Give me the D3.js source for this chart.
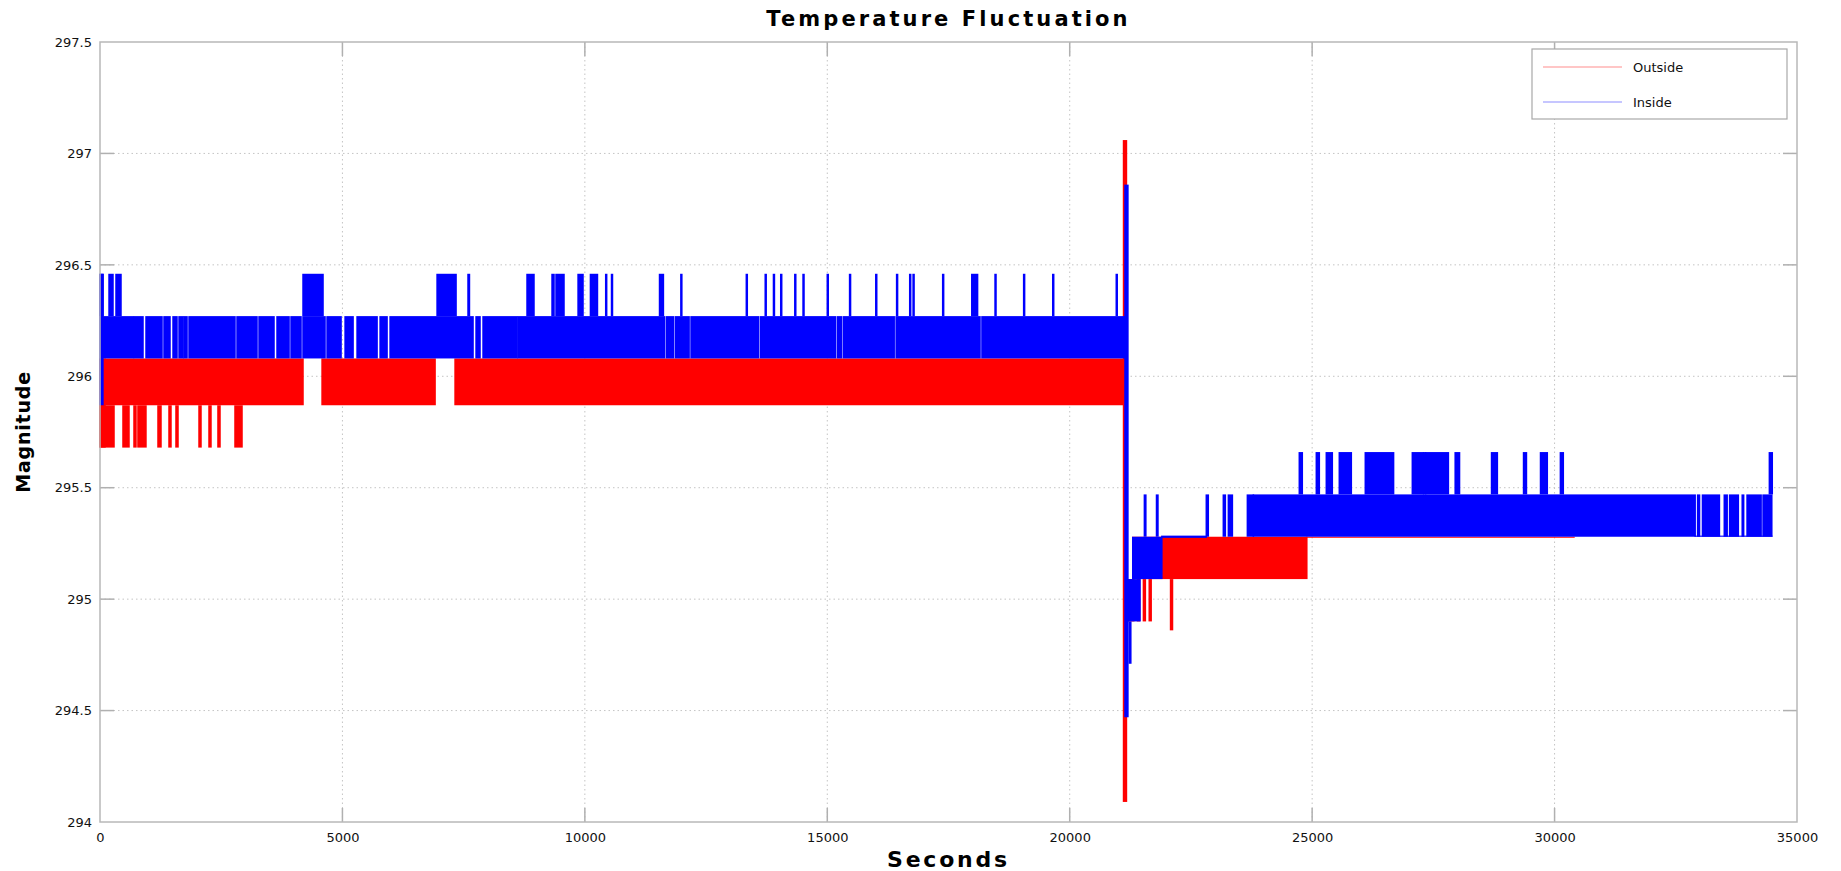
<!DOCTYPE html>
<html>
<head>
<meta charset="utf-8">
<script src="https://cdn.jsdelivr.net/npm/d3@7"></script>
<style>
  body { margin: 0; background: #fff; }
  svg { display: block; font-family: "DejaVu Sans", Verdana, sans-serif; }
</style>
</head>
<body>
<div id="chart"></div>
<script>
// Chart data. Each block is [tStart, tEnd, low, high]:
// the sensor toggles so fast between low and high that it renders as a solid band.
const chartTitle = 'Temperature Fluctuation';
const xLabel = 'Seconds';
const yLabel = 'Magnitude';
const seriesNames = ['Outside', 'Inside'];
const seriesColors = ['#ff0000', '#0000ff'];
const xTicks = [0, 5000, 10000, 15000, 20000, 25000, 30000, 35000];
const yTicks = [294, 294.5, 295, 295.5, 296, 296.5, 297, 297.5];

const outsideBlocks = [
  [0, 103, 295.68, 296.08],
  [103, 4187, 295.87, 296.08],
  [4580, 6911, 295.87, 296.08],
  [7323, 21130, 295.87, 296.08],
  [0, 289, 295.68, 295.87], [474, 598, 295.68, 295.87], [701, 742, 295.68, 295.87],
  [783, 948, 295.68, 295.87], [1196, 1258, 295.68, 295.87], [1423, 1464, 295.68, 295.87],
  [1567, 1609, 295.68, 295.87], [2042, 2083, 295.68, 295.87], [2248, 2289, 295.68, 295.87],
  [2433, 2475, 295.68, 295.87], [2784, 2929, 295.68, 295.87],
  [21110, 21170, 294.09, 297.06],
  [21170, 21320, 294.90, 295.09],
  [21400, 21440, 294.90, 295.09], [21520, 21560, 294.90, 295.09], [21640, 21680, 294.90, 295.09],
  [21300, 24890, 295.09, 295.28],
  [22080, 22120, 294.86, 295.09],
  [24890, 30400, 295.276, 295.28]
];

const insideBlocks = [
  [0, 60, 295.87, 296.46],
  // main band 296.08 - 296.27
  [60, 688, 296.08, 296.27], [710, 887, 296.08, 296.27], [949, 1279, 296.08, 296.27],
  [1320, 1444, 296.08, 296.27], [1506, 1588, 296.08, 296.27], [1630, 1712, 296.08, 296.27],
  [1733, 1795, 296.08, 296.27], [1836, 2784, 296.08, 296.27], [2826, 3238, 296.08, 296.27],
  [3280, 3589, 296.08, 296.27], [3651, 3899, 296.08, 296.27], [3940, 4146, 296.08, 296.27],
  [4187, 4641, 296.08, 296.27], [4683, 4972, 296.08, 296.27], [5055, 5220, 296.08, 296.27],
  [5302, 5715, 296.08, 296.27], [5777, 5921, 296.08, 296.27], [5983, 7694, 296.08, 296.27],
  [7756, 7838, 296.08, 296.27], [7900, 8600, 296.08, 296.27], [8620, 11640, 296.08, 296.27],
  [11680, 11830, 296.08, 296.27], [11870, 12150, 296.08, 296.27], [12190, 13580, 296.08, 296.27],
  [13620, 15170, 296.08, 296.27], [15210, 15290, 296.08, 296.27], [15330, 16380, 296.08, 296.27],
  [16420, 18150, 296.08, 296.27], [18190, 21150, 296.08, 296.27],
  // excursions up to 296.46
  [0, 62, 296.27, 296.46], [186, 268, 296.27, 296.46], [330, 433, 296.27, 296.46],
  [4187, 4600, 296.27, 296.46], [6952, 7344, 296.27, 296.46], [7590, 7620, 296.27, 296.46],
  [8807, 8951, 296.27, 296.46], [9323, 9364, 296.27, 296.46], [9405, 9570, 296.27, 296.46],
  [9860, 9962, 296.27, 296.46], [10115, 10260, 296.27, 296.46], [10430, 10450, 296.27, 296.46],
  [10550, 10570, 296.27, 296.46], [11540, 11620, 296.27, 296.46], [11980, 12000, 296.27, 296.46],
  [13330, 13350, 296.27, 296.46], [13720, 13740, 296.27, 296.46], [13890, 13910, 296.27, 296.46],
  [14040, 14060, 296.27, 296.46], [14330, 14350, 296.27, 296.46], [14500, 14520, 296.27, 296.46],
  [15000, 15020, 296.27, 296.46], [15460, 15480, 296.27, 296.46], [16000, 16020, 296.27, 296.46],
  [16430, 16450, 296.27, 296.46], [16700, 16720, 296.27, 296.46], [16770, 16790, 296.27, 296.46],
  [17380, 17400, 296.27, 296.46], [17980, 18100, 296.27, 296.46], [18460, 18480, 296.27, 296.46],
  [19050, 19070, 296.27, 296.46], [19650, 19670, 296.27, 296.46], [20960, 20980, 296.27, 296.46],
  // the big jump
  [21140, 21200, 294.47, 296.86],
  [21200, 21450, 294.90, 295.09], [21230, 21260, 294.71, 294.90],
  [21300, 21900, 295.09, 295.28],
  [21540, 21570, 295.28, 295.47], [21790, 21820, 295.28, 295.47],
  [21900, 22817, 295.275, 295.285],
  [22817, 22858, 295.28, 295.47], [23168, 23210, 295.28, 295.47], [23272, 23355, 295.28, 295.47],
  [23664, 23788, 295.28, 295.47],
  // second band 295.28 - 295.47
  [23788, 32900, 295.28, 295.47], [32950, 32990, 295.28, 295.47], [33050, 33400, 295.28, 295.47],
  [33500, 33560, 295.28, 295.47], [33610, 33790, 295.28, 295.47], [33870, 33900, 295.28, 295.47],
  [33970, 34260, 295.28, 295.47], [34300, 34480, 295.28, 295.47],
  [32900, 34480, 295.28, 295.285],
  // excursions up to 295.66
  [24735, 24797, 295.47, 295.66], [25086, 25148, 295.47, 295.66], [25292, 25416, 295.47, 295.66],
  [25560, 25808, 295.47, 295.66], [26096, 26680, 295.47, 295.66], [27066, 27290, 295.47, 295.66],
  [27300, 27340, 295.47, 295.66], [27340, 27810, 295.47, 295.66], [27950, 28040, 295.47, 295.66],
  [28700, 28820, 295.47, 295.66], [29360, 29420, 295.47, 295.66], [29710, 29850, 295.47, 295.66],
  [30120, 30180, 295.47, 295.66], [34430, 34490, 295.47, 295.66]
];

const W = 1841, H = 871;
const margin = { top: 42, right: 44, bottom: 49, left: 100 };
const width = W - margin.left - margin.right;
const height = H - margin.top - margin.bottom;

const svg = d3.select('#chart').append('svg')
  .attr('width', W)
  .attr('height', H);

const g = svg.append('g')
  .attr('transform', `translate(${margin.left},${margin.top})`);

const x = d3.scaleLinear().domain([0, 35000]).range([0, width]);
const y = d3.scaleLinear().domain([294, 297.5]).range([height, 0]);

// dotted grid
g.append('g').selectAll('line')
  .data(xTicks.slice(1, -1))
  .enter().append('line')
  .attr('x1', d => x(d)).attr('x2', d => x(d))
  .attr('y1', 0).attr('y2', height)
  .attr('stroke', '#c4c4c4').attr('stroke-width', 1).attr('stroke-dasharray', '1.5,3');

g.append('g').selectAll('line')
  .data(yTicks.slice(1, -1))
  .enter().append('line')
  .attr('x1', 0).attr('x2', width)
  .attr('y1', d => y(d)).attr('y2', d => y(d))
  .attr('stroke', '#c4c4c4').attr('stroke-width', 1).attr('stroke-dasharray', '1.5,3');

// inward tick marks on all four sides
const tickLen = 14;
const tickG = g.append('g').attr('stroke', '#b0b0b0').attr('stroke-width', 1.5);
xTicks.slice(1, -1).forEach(t => {
  tickG.append('line').attr('x1', x(t)).attr('x2', x(t)).attr('y1', height).attr('y2', height - tickLen);
  tickG.append('line').attr('x1', x(t)).attr('x2', x(t)).attr('y1', 0).attr('y2', tickLen);
});
yTicks.slice(1, -1).forEach(v => {
  tickG.append('line').attr('x1', 0).attr('x2', tickLen).attr('y1', y(v)).attr('y2', y(v));
  tickG.append('line').attr('x1', width).attr('x2', width - tickLen).attr('y1', y(v)).attr('y2', y(v));
});

// series, outside first so inside sits on top
[outsideBlocks, insideBlocks].forEach((blocks, i) => {
  g.append('g').selectAll('rect')
    .data(blocks)
    .enter().append('rect')
    .attr('x', d => x(d[0]) - 0.75)
    .attr('width', d => Math.max(2, x(d[1]) - x(d[0]) + 1.5))
    .attr('y', d => y(d[3]))
    .attr('height', d => Math.max(1, y(d[2]) - y(d[3])))
    .attr('fill', seriesColors[i]);
});

// frame
g.append('rect')
  .attr('width', width).attr('height', height)
  .attr('fill', 'none').attr('stroke', '#b8b8b8').attr('stroke-width', 1.5);

// axes (labels only)
const xAxis = g.append('g')
  .attr('transform', `translate(0,${height})`)
  .call(d3.axisBottom(x).tickValues(xTicks).tickSize(0).tickPadding(11).tickFormat(d3.format('d')));
const yAxis = g.append('g')
  .call(d3.axisLeft(y).tickValues(yTicks).tickSize(0).tickPadding(8).tickFormat(d => String(d)));
[xAxis, yAxis].forEach(a => {
  a.select('.domain').remove();
  a.selectAll('text').attr('font-size', 13).attr('fill', '#111')
    .attr('font-family', '"DejaVu Sans", Verdana, sans-serif');
});

// titles
svg.append('text')
  .attr('x', margin.left + width / 2).attr('y', 26)
  .attr('text-anchor', 'middle')
  .attr('font-size', 21).attr('font-weight', 'bold')
  .attr('letter-spacing', 3.1)
  .text(chartTitle);

svg.append('text')
  .attr('x', margin.left + width / 2).attr('y', 867)
  .attr('text-anchor', 'middle')
  .attr('font-size', 22).attr('font-weight', 'bold')
  .attr('letter-spacing', 2.8)
  .text(xLabel);

svg.append('text')
  .attr('transform', `translate(30,${margin.top + height / 2}) rotate(-90)`)
  .attr('text-anchor', 'middle')
  .attr('font-size', 19).attr('font-weight', 'bold')
  .attr('letter-spacing', 0.8)
  .text(yLabel);

// legend
const legend = svg.append('g').attr('transform', 'translate(1532,49)');
legend.append('rect')
  .attr('width', 255).attr('height', 70)
  .attr('fill', '#fff').attr('stroke', '#a8a8a8').attr('stroke-width', 1.2);
seriesNames.forEach((name, i) => {
  const ly = 18 + i * 35;
  legend.append('line')
    .attr('x1', 11).attr('x2', 90).attr('y1', ly).attr('y2', ly)
    .attr('stroke', seriesColors[i]).attr('stroke-width', 1).attr('stroke-opacity', 0.45);
  legend.append('text')
    .attr('x', 101).attr('y', ly).attr('dy', '0.35em')
    .attr('font-size', 13).attr('fill', '#111')
    .text(name);
});
</script>
</body>
</html>
